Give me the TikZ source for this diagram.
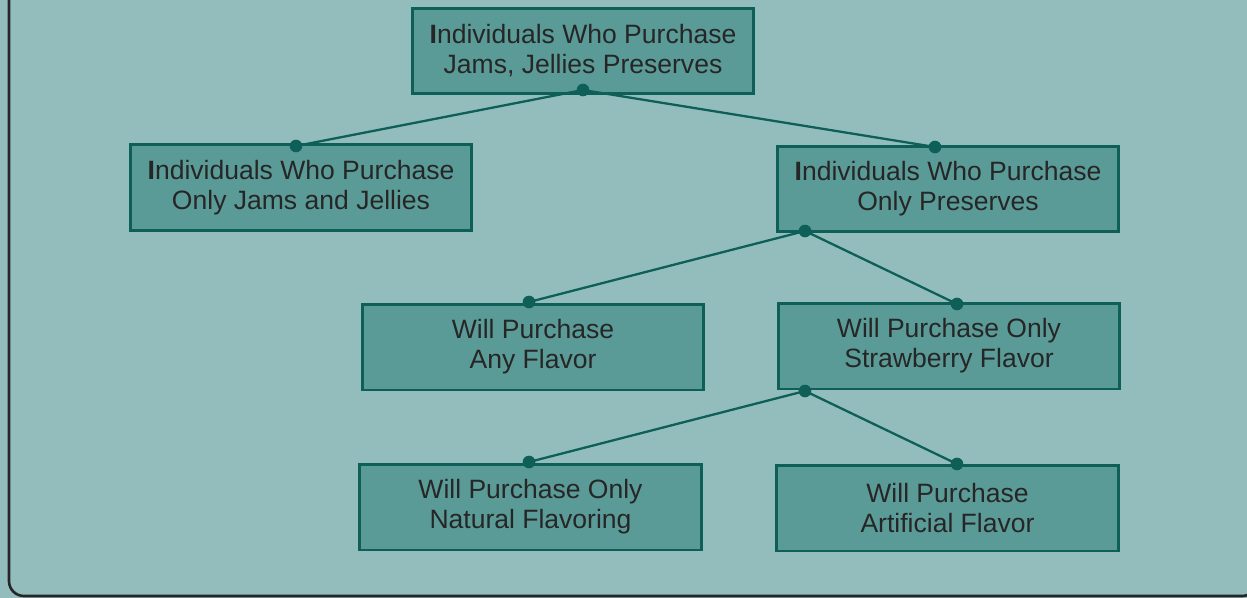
\documentclass[tikz,border=0pt]{standalone}
\usepackage{fontspec}
\setmainfont{Liberation Sans}
\definecolor{panel}{HTML}{93BDBC}
\definecolor{boxfill}{HTML}{5A9B98}
\definecolor{edge}{HTML}{0D5F58}
\definecolor{ink}{HTML}{262626}

\begin{document}
\begin{tikzpicture}[x=0.02cm, y=-0.02cm,
	box/.style={draw=edge, line width=1.7pt, fill=boxfill, text=ink, align=center,
		minimum width=6.84cm, minimum height=1.72cm, font=\fontsize{15.1}{17}\selectfont},
	link/.style={edge, line width=1.3pt}]
	\useasboundingbox (0,0) rectangle (1247,598);
	\fill[panel] (0,0) rectangle (1247,598);
	\draw[line width=1.5pt, color=ink, rounded corners=8.5pt] (9,-30) -- (9,596) -- (1257,596) -- (1257,-30);
	% boxes
	\node[box] (all) at (583,51) {\textbf{I}ndividuals Who Purchase\\Jams, Jellies Preserves};
	\node[box] (jams) at (301,187.5) {\textbf{I}ndividuals Who Purchase\\Only Jams and Jellies};
	\node[box] (pres) at (948,189) {\textbf{I}ndividuals Who Purchase\\Only Preserves};
	\node[box] (any) at (533,347) {Will Purchase\\Any Flavor};
	\node[box] (straw) at (949,346) {Will Purchase Only\\Strawberry Flavor};
	\node[box] (natural) at (530.5,507) {Will Purchase Only\\Natural Flavoring};
	\node[box] (artif) at (947.5,508) {Will Purchase\\Artificial Flavor};
	% joints
	\coordinate (allS) at (583,90);
	\coordinate (jamsN) at (296,146);
	\coordinate (presN) at (935,147);
	\coordinate (presS) at (805,231);
	\coordinate (anyN) at (529,302);
	\coordinate (strawN) at (957,304);
	\coordinate (strawS) at (805,391);
	\coordinate (naturalN) at (529,462);
	\coordinate (artifN) at (957,464);
	\draw[link] (allS) -- (jamsN);
	\draw[link] (allS) -- (presN);
	\draw[link] (presS) -- (anyN);
	\draw[link] (presS) -- (strawN);
	\draw[link] (strawS) -- (naturalN);
	\draw[link] (strawS) -- (artifN);
	\foreach \p in {allS,jamsN,presN,presS,anyN,strawN,strawS,naturalN,artifN}
		\fill[edge] (\p) circle (3.6pt);
\end{tikzpicture}
\end{document}
